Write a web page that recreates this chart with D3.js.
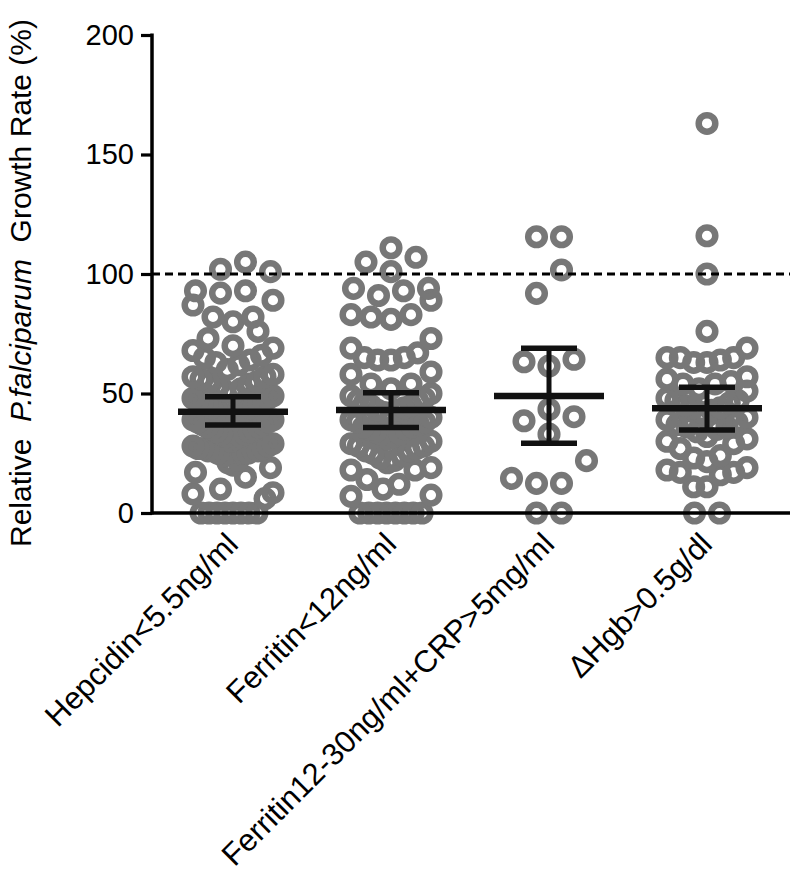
<!DOCTYPE html>
<html>
<head>
<meta charset="utf-8">
<script src="https://cdn.jsdelivr.net/npm/d3@7"></script>
<style>
  html, body { margin: 0; padding: 0; background: #fff; }
  svg { display: block; font-family: "Liberation Sans", Arial, Helvetica, sans-serif; }
</style>
</head>
<body>
<svg id="chart" width="792" height="878"></svg>
<script>
// ---------------- data ----------------
const categories = ["Hepcidin<5.5ng/ml", "Ferritin<12ng/ml", "Ferritin12-30ng/ml+CRP>5mg/ml", "\u0394Hgb>0.5g/dl"];

const hepcidinValues = [105, 101, 102, 93, 92, 89, 93, 87, 82, 76, 80, 82, 73,
  69, 70, 65, 63, 64, 68, 62, 66,
  57, 60, 58, 56, 55, 53, 50, 52, 57, 54, 51, 55,
  48, 46, 44, 45, 47, 42, 43, 41, 40, 45, 49, 44, 46, 43, 41, 47, 42, 48,
  38, 36, 35, 37, 39, 33, 34, 32, 36, 31, 38, 35, 30, 33, 37, 34, 32, 39,
  28, 26, 25, 27, 26, 25, 24, 26, 27, 25, 29, 28, 27, 26,
  22, 21, 20, 19, 17, 15,
  6, 8.5, 10, 8,
  0, 0, 0, 0, 0, 0, 0, 0];

const ferritinLowValues = [111, 105, 107, 101, 94, 93, 91, 94, 89, 83, 81, 82, 83, 73,
  69, 65, 64, 64, 65, 67, 59, 54, 52, 54, 58,
  50, 48, 47, 46, 45, 44, 43, 42, 41, 40, 47, 45, 49, 43,
  39, 38, 36, 35, 33, 32, 31, 30, 37, 34, 36, 33, 38, 35,
  29, 28, 27, 26, 25, 24, 23, 22, 28, 26,
  21, 19, 18, 18, 14, 12, 10, 7, 7.5,
  0, 0, 0, 0, 0, 0, 0, 0];

const ferritinCrpValues = [115.6, 115.6, 101.7, 91.9, 63.3, 61.5, 64.3, 40.3, 43.4, 38.6, 33,
  21.9, 12.4, 12.4, 14.5, 0, 0];

const hgbValues = [163, 116, 100, 76,
  65, 65, 63, 63, 64, 65, 69,
  55, 54, 51, 54, 56, 57, 52,
  47, 47, 45, 44, 46, 43, 42, 48, 44,
  40, 38, 36, 36, 37, 39, 35, 34,
  29, 24, 30, 27, 32, 31,
  21.5, 18, 17, 16, 17, 19, 23,
  11, 11,
  0, 0];

const seriesValues = [hepcidinValues, ferritinLowValues, ferritinCrpValues, hgbValues];

const means = [42.4, 43.1, 49.0, 43.8];
const ciLow = [36.8, 35.8, 29.2, 34.7];
const ciHigh = [48.6, 50.3, 68.9, 52.6];

const yTicks = [0, 50, 100, 150, 200];
const referenceLine = 100;

// ---------------- layout ----------------
const svg = d3.select("#chart");
const plotLeft = 152, plotRight = 790, plotTop = 35, plotBottom = 513;
const tickFont = 29, titleFont = 30, labelFont = 31;
const pointColor = "#777777";

const x = d3.scaleBand().domain(categories).range([154, 786]);
const cx = c => x(c) + x.bandwidth() / 2;
const y = d3.scaleLinear().domain([0, 200]).range([plotBottom, plotTop]);

// Prism-like column scatter: bin by value, spread each bin horizontally
const binSize = 10, stepMax = 25, spanMax = 80;
function swarm(values) {
  const sorted = values.slice().sort((a, b) => a - b);
  const bins = [];
  let cur = null;
  for (const v of sorted) {
    if (!cur || v >= cur.start + binSize) { cur = { start: v, items: [] }; bins.push(cur); }
    cur.items.push(v);
  }
  const pts = [];
  for (const b of bins) {
    const n = b.items.length;
    const step = n > 1 ? Math.min(stepMax, spanMax / (n - 1)) : 0;
    const slots = d3.range(n).map(i => (i - (n - 1) / 2) * step);
    slots.sort((a, c) => Math.abs(a) - Math.abs(c) || a - c);
    b.items.forEach((v, i) => pts.push({ v, dx: slots[i] }));
  }
  return pts;
}

// points
categories.forEach((c, i) => {
  const pts = swarm(seriesValues[i]);
  svg.append("g").selectAll("circle").data(pts).join("circle")
    .attr("cx", d => cx(c) + d.dx)
    .attr("cy", d => y(d.v))
    .attr("r", 8.3)
    .attr("fill", "none")
    .attr("stroke", pointColor)
    .attr("stroke-width", 6.5);
});

// dashed reference line
svg.append("line")
  .attr("x1", plotLeft).attr("x2", plotRight)
  .attr("y1", y(referenceLine)).attr("y2", y(referenceLine))
  .attr("stroke", "#000").attr("stroke-width", 3.2)
  .attr("stroke-dasharray", "8,5");

// mean and 95% CI
const eb = svg.append("g").attr("stroke", "#111").attr("stroke-linecap", "butt");
categories.forEach((c, i) => {
  const xc = cx(c);
  eb.append("line").attr("x1", xc).attr("x2", xc).attr("y1", y(ciLow[i])).attr("y2", y(ciHigh[i])).attr("stroke-width", 5);
  eb.append("line").attr("x1", xc - 28).attr("x2", xc + 28).attr("y1", y(ciLow[i])).attr("y2", y(ciLow[i])).attr("stroke-width", 5.5);
  eb.append("line").attr("x1", xc - 28).attr("x2", xc + 28).attr("y1", y(ciHigh[i])).attr("y2", y(ciHigh[i])).attr("stroke-width", 5.5);
  eb.append("line").attr("x1", xc - 55).attr("x2", xc + 55).attr("y1", y(means[i])).attr("y2", y(means[i])).attr("stroke-width", 6.5);
});

// y axis
const yAxis = svg.append("g").attr("transform", `translate(${plotLeft},0)`)
  .call(d3.axisLeft(y).tickValues(yTicks).tickSize(11).tickSizeOuter(0).tickPadding(7));
yAxis.select(".domain").remove();
yAxis.selectAll(".tick line").attr("stroke", "#000").attr("stroke-width", 3.2);
yAxis.selectAll(".tick text").attr("font-size", tickFont).attr("fill", "#000")
  .style("font-family", '"Liberation Sans", Arial, sans-serif');
svg.append("line").attr("x1", plotLeft).attr("x2", plotLeft).attr("y1", plotTop - 1.5).attr("y2", plotBottom + 1.5)
  .attr("stroke", "#000").attr("stroke-width", 3.5);

// x axis
svg.append("line").attr("x1", plotLeft).attr("x2", plotRight).attr("y1", plotBottom).attr("y2", plotBottom)
  .attr("stroke", "#000").attr("stroke-width", 3.5);

// category labels
categories.forEach(c => {
  svg.append("text")
    .attr("transform", `translate(${cx(c) + 7},${plotBottom + 33}) rotate(-45)`)
    .attr("text-anchor", "end")
    .attr("font-size", labelFont)
    .attr("fill", "#000")
    .text(c);
});

// y title
const yt = svg.append("text")
  .attr("transform", `translate(31,283) rotate(-90)`)
  .attr("text-anchor", "middle")
  .attr("font-size", titleFont)
  .attr("fill", "#000")
  .style("white-space", "pre");
yt.append("tspan").text("Relative  ");
yt.append("tspan").attr("font-style", "italic").text("P.falciparum");
yt.append("tspan").text("  Growth Rate (%)");
</script>
</body>
</html>
